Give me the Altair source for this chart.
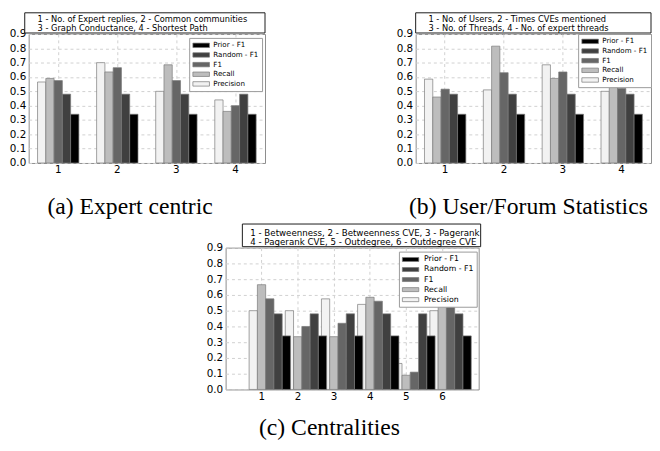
import altair as alt
import pandas as pd

SERIES = ["Precision", "Recall", "F1", "Random - F1", "Prior - F1"]
LEGEND_ORDER = ["Prior - F1", "Random - F1", "F1", "Recall", "Precision"]
COLORS = ["#000000", "#404040", "#666666", "#bdbdbd", "#f2f2f2"]
YTICKS = [0.0, 0.1, 0.2, 0.3, 0.4, 0.5, 0.6, 0.7, 0.8, 0.9]

# (a) Expert centric
a_groups = ["1", "2", "3", "4"]
a_precision = [0.565, 0.70, 0.50, 0.44]
a_recall = [0.59, 0.635, 0.685, 0.36]
a_f1 = [0.575, 0.665, 0.575, 0.40]
a_random = [0.48, 0.48, 0.48, 0.48]
a_prior = [0.34, 0.34, 0.34, 0.34]
a_lines = ["1 - No. of Expert replies, 2 - Common communities",
           "3 - Graph Conductance, 4 - Shortest Path"]

# (b) User/Forum Statistics
b_groups = ["1", "2", "3", "4"]
b_precision = [0.585, 0.51, 0.685, 0.50]
b_recall = [0.46, 0.815, 0.59, 0.56]
b_f1 = [0.515, 0.63, 0.635, 0.52]
b_random = [0.48, 0.48, 0.48, 0.48]
b_prior = [0.34, 0.34, 0.34, 0.34]
b_lines = ["1 - No. of Users, 2 - Times CVEs mentioned",
           "3 - No. of Threads, 4 - No. of expert threads"]

# (c) Centralities
c_groups = ["1", "2", "3", "4", "5", "6"]
c_precision = [0.50, 0.50, 0.575, 0.54, 0.165, 0.50]
c_recall = [0.665, 0.335, 0.335, 0.585, 0.09, 0.60]
c_f1 = [0.575, 0.40, 0.42, 0.56, 0.11, 0.55]
c_random = [0.48, 0.48, 0.48, 0.48, 0.48, 0.48]
c_prior = [0.34, 0.34, 0.34, 0.34, 0.34, 0.34]
c_lines = ["1 - Betweenness, 2 - Betweenness CVE, 3 - Pagerank",
           "4 - Pagerank CVE, 5 - Outdegree, 6 - Outdegree CVE"]

SERIF = "Liberation Serif, Times New Roman, Times, DejaVu Serif, serif"


def long_table(groups, cols):
    rows = []
    for s, vals in zip(SERIES, cols):
        for g, v in zip(groups, vals):
            rows.append({"group": g, "series": s, "value": v})
    return pd.DataFrame(rows)


def panel(groups, cols, W, H, pad_outer, lines, box, text_pos, fs,
          leg, caption, cap_dx, cap_offset):
    df = long_table(groups, cols)
    legend_kw = dict(title=None, fillColor="white", strokeColor="#9a9a9a", padding=3,
                     labelFont="DejaVu Sans", labelFontSize=leg["fs"], labelColor="black",
                     symbolType=leg["path"], symbolSize=leg["size"],
                     symbolStrokeColor="#777777", symbolStrokeWidth=0.7,
                     rowPadding=leg["rowpad"], labelOffset=leg["loff"], zindex=1)
    if "lx" in leg:
        legend_kw.update(orient="none", legendX=leg["lx"], legendY=leg["ly"])
    else:
        legend_kw.update(orient="top-right", offset=leg["offset"])
    bars = alt.Chart(df).mark_bar(stroke="#7a7a7a", strokeWidth=0.7).encode(
        x=alt.X("group:N", sort=groups,
                scale=alt.Scale(paddingInner=0.3, paddingOuter=pad_outer),
                axis=alt.Axis(title=None, labelAngle=0, labelFont="DejaVu Sans",
                              labelFontSize=10.5, labelColor="black", domain=False,
                              ticks=False, grid=True, gridColor="#d0d0d0",
                              gridDash=[3, 3], labelPadding=2, bandPosition=0.5)),
        xOffset=alt.XOffset("series:N", scale=alt.Scale(domain=SERIES, paddingInner=0, paddingOuter=0)),
        y=alt.Y("value:Q", scale=alt.Scale(domain=[0, 0.9], nice=False),
                axis=alt.Axis(title=None, values=YTICKS, format=".1f",
                              labelFont="DejaVu Sans", labelFontSize=10.5,
                              labelColor="black", domain=False, ticks=False,
                              grid=True, gridColor="#d0d0d0", gridDash=[3, 3],
                              labelPadding=3)),
        color=alt.Color("series:N",
                        scale=alt.Scale(domain=LEGEND_ORDER, range=COLORS),
                        legend=alt.Legend(**legend_kw)),
    )
    one = pd.DataFrame({"k": [0]})
    rect = alt.Chart(one).mark_rect(fill="white", stroke="#1a1a1a", strokeWidth=1).encode(
        x=alt.value(box[0]), x2=alt.value(box[1]), y=alt.value(box[2]), y2=alt.value(box[3]))
    t1 = alt.Chart(one).mark_text(text=lines[0], align="left", baseline="middle",
                                  font="DejaVu Sans", fontSize=fs, color="black").encode(
        x=alt.value(text_pos[0]), y=alt.value(text_pos[1]))
    t2 = alt.Chart(one).mark_text(text=lines[1], align="left", baseline="middle",
                                  font="DejaVu Sans", fontSize=fs, color="black").encode(
        x=alt.value(text_pos[0]), y=alt.value(text_pos[2]))
    return alt.layer(bars, rect, t1, t2).properties(
        width=W, height=H,
        title=alt.TitleParams(caption, orient="bottom", font=SERIF,
                              fontSize=24, fontWeight="normal", color="black",
                              anchor="middle", frame="group", dx=cap_dx,
                              offset=cap_offset))


leg_a = {"lx": 163, "ly": 4, "fs": 7.2, "path": "M-1,-0.6H3.5V0.6H-1Z", "size": 56,
         "rowpad": 0.8, "loff": 12.5}
leg_b = {"offset": 0, "fs": 7.2, "path": "M-1,-0.6H3.5V0.6H-1Z", "size": 56,
         "rowpad": 0.8, "loff": 12.5}
leg_c = {"lx": 176, "ly": 4, "fs": 7.9, "path": "M-1,-0.45H2.7V0.45H-1Z", "size": 81,
         "rowpad": 1.2, "loff": 12.5}

A = panel(a_groups, [a_precision, a_recall, a_f1, a_random, a_prior], 240, 131, 0.15,
          a_lines, (-4, 240, -21.5, -1), (9, -14.8, -5.6), 8.4, leg_a,
          "(a) Expert centric", -17, 20)
B = panel(b_groups, [b_precision, b_recall, b_f1, b_random, b_prior], 239, 131, 0.15,
          b_lines, (0, 239, -21.5, -1), (13, -14.8, -5.6), 8.4, leg_b,
          "(b) User/Forum Statistics", -5, 20)
C = panel(c_groups, [c_precision, c_recall, c_f1, c_random, c_prior], 257, 144, 0.65,
          c_lines, (17, 259, -24, -1), (25, -15.3, -6), 8.8, leg_c,
          "(c) Centralities", -23, 15)

spacer = alt.Chart(pd.DataFrame({"k": [0]})).mark_point(opacity=0).encode(
    x=alt.value(0), y=alt.value(0)).properties(
    width=179, height=10, view=alt.ViewBackground(stroke=None))

top = alt.hconcat(A, B, spacing=131).resolve_scale(color="independent").resolve_legend(color="independent")
bottom = alt.hconcat(spacer, C, spacing=0).resolve_scale(color="independent").resolve_legend(color="independent")

chart = alt.vconcat(top, bottom, spacing=4).resolve_scale(
    color="independent").resolve_legend(color="independent").configure_view(
    stroke="#8c8c8c", strokeWidth=1).properties(padding=0, background="white")

chart.save("out.html", embed_options={"renderer": "svg", "actions": False})
